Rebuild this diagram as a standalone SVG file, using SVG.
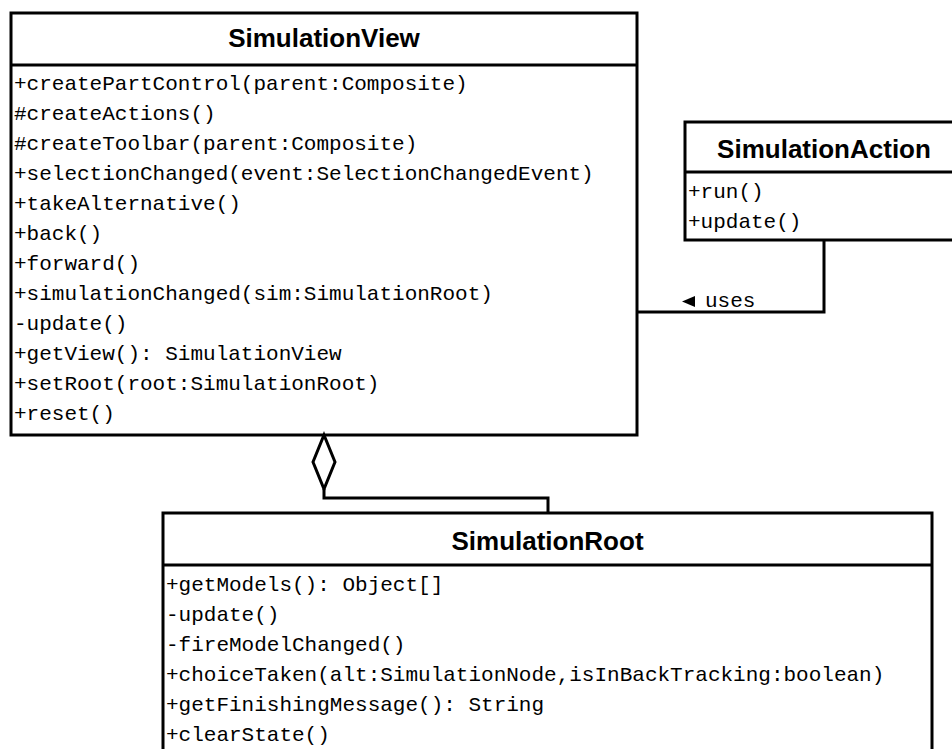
<svg xmlns="http://www.w3.org/2000/svg" width="952" height="749" viewBox="0 0 952 749">
  <style>
    .box { fill: #ffffff; stroke: #000000; stroke-width: 3; }
    .sep { stroke: #000000; stroke-width: 3; }
    .title { font-family: "Liberation Sans", Arial, sans-serif; font-weight: bold; font-size: 26px; fill: #000000; text-anchor: middle; }
    .member { font-family: "Liberation Mono", "Courier New", monospace; font-size: 21px; fill: #000000; }
    .edge { fill: none; stroke: #000000; stroke-width: 3; }
  </style>
  <rect x="0" y="0" width="952" height="749" fill="#ffffff"/>

  <!-- class SimulationView -->
  <g id="SimulationView">
    <rect class="box" x="11" y="13" width="626" height="422"/>
    <line class="sep" x1="11" y1="65" x2="637" y2="65"/>
    <text class="title" x="324" y="47">SimulationView</text>
    <text class="member" x="14" y="90">+createPartControl(parent:Composite)</text>
    <text class="member" x="14" y="120">#createActions()</text>
    <text class="member" x="14" y="150">#createToolbar(parent:Composite)</text>
    <text class="member" x="14" y="180">+selectionChanged(event:SelectionChangedEvent)</text>
    <text class="member" x="14" y="210">+takeAlternative()</text>
    <text class="member" x="14" y="240">+back()</text>
    <text class="member" x="14" y="270">+forward()</text>
    <text class="member" x="14" y="300">+simulationChanged(sim:SimulationRoot)</text>
    <text class="member" x="14" y="330">-update()</text>
    <text class="member" x="14" y="360">+getView(): SimulationView</text>
    <text class="member" x="14" y="390">+setRoot(root:SimulationRoot)</text>
    <text class="member" x="14" y="420">+reset()</text>
  </g>

  <!-- class SimulationAction -->
  <g id="SimulationAction">
    <rect class="box" x="685" y="122" width="278" height="118"/>
    <line class="sep" x1="685" y1="172" x2="963" y2="172"/>
    <text class="title" x="824" y="158">SimulationAction</text>
    <text class="member" x="688" y="198">+run()</text>
    <text class="member" x="688" y="228">+update()</text>
  </g>

  <!-- class SimulationRoot -->
  <g id="SimulationRoot">
    <rect class="box" x="163" y="513" width="769" height="260"/>
    <line class="sep" x1="163" y1="565" x2="932" y2="565"/>
    <text class="title" x="547.5" y="550">SimulationRoot</text>
    <text class="member" x="166" y="591">+getModels(): Object[]</text>
    <text class="member" x="166" y="621">-update()</text>
    <text class="member" x="166" y="651">-fireModelChanged()</text>
    <text class="member" x="166" y="681">+choiceTaken(alt:SimulationNode,isInBackTracking:boolean)</text>
    <text class="member" x="166" y="711">+getFinishingMessage(): String</text>
    <text class="member" x="166" y="741">+clearState()</text>
  </g>

  <!-- relations -->
  <g id="connectors">
    <!-- association: SimulationView uses SimulationAction -->
    <polyline class="edge" points="637,312 824,312 824,240"/>
    <polygon points="682,301.5 695,296 695,307" fill="#000000"/>
    <text class="member" x="705" y="307">uses</text>
    <!-- aggregation: SimulationView holds SimulationRoot -->
    <polyline class="edge" points="324,489 324,498 548,498 548,513"/>
    <polygon points="324,435 335,462 324,489 313,462" fill="#ffffff" stroke="#000000" stroke-width="3"/>
  </g>
</svg>
